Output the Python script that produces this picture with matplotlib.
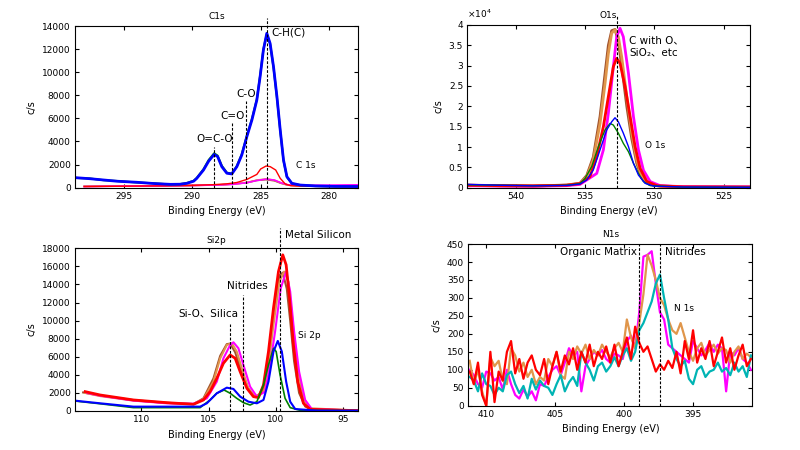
import matplotlib
matplotlib.use("Agg")
import matplotlib.pyplot as plt
from matplotlib.ticker import MultipleLocator, FuncFormatter

plt.rcParams['font.family'] = ['DejaVu Sans', 'Noto Sans CJK JP']
plt.rcParams['font.size'] = 6.5

RED = '#ff0000'
BLUE = '#0000ff'
GREEN = '#008000'
MAGENTA = '#ff00ff'
ORANGE = '#e0964b'
BROWN = '#a0522d'
CYAN = '#00b4b4'

# ---- C1s ----
c1s_blue_x = [298.57, 297.5, 296.5, 295.5, 294.06, 292.8, 291.6, 290.9, 290.4, 289.9, 289.67,
              289.18, 288.8, 288.4, 288.15, 287.84, 287.47, 287.11, 286.74, 286.38, 286.01,
              285.64, 285.28, 285.04, 284.8, 284.55, 284.31, 284.06, 283.81, 283.57, 283.33,
              283.08, 282.72, 282.11, 281.0, 279.5, 277.86]
c1s_blue_y = [870, 780, 670, 560, 470, 360, 290, 300, 380, 560, 810,
              1530, 2300, 2880, 2700, 1820, 1250, 1190, 1820, 2830, 4420,
              5860, 7590, 9610, 11920, 13370, 12500, 10480, 7880, 5000, 2400,
              950, 380, 230, 150, 110, 100]
c1s_green_y = [850, 800, 650, 580, 450, 380, 280, 310, 400, 600, 850,
               1600, 2400, 2980, 2780, 1900, 1300, 1220, 1880, 2900, 4500,
               5950, 7650, 9700, 12000, 13300, 12450, 10400, 7800, 4950, 2350,
               930, 370, 220, 140, 100, 90]
c1s_red_x = [297.9, 296.0, 294.0, 292.0, 290.0, 288.5, 287.5, 286.74, 286.0, 285.28, 285.0,
             284.6, 284.3, 283.9, 283.57, 283.2, 282.8, 282.0, 280.0, 277.86]
c1s_red_y = [100, 120, 140, 160, 200, 260, 330, 450, 720, 1150, 1620,
             1880, 1820, 1530, 810, 320, 170, 130, 110, 100]
c1s_small_x = [297.9, 295.0, 292.0, 290.0, 288.0, 287.0, 286.0, 285.3, 284.6, 284.0, 283.5,
               283.0, 282.0, 280.0, 277.86]
c1s_orange_y = [120, 150, 170, 200, 250, 320, 450, 650, 760, 650, 400, 230, 180, 170, 190]
c1s_magenta_y = [100, 140, 160, 190, 240, 300, 430, 620, 740, 660, 420, 250, 200, 220, 250]
c1s_brown_y = [110, 140, 165, 195, 245, 310, 440, 630, 700, 600, 380, 220, 170, 160, 170]
c1s_marks = [288.38, 287.06, 286.04, 284.55]
c1s_mark_tops = [3550, 5630, 7500, 14670]

# ---- O1s ----
o1s_orange_x = [543.57, 541.16, 538.75, 536.33, 535.37, 534.88, 534.41, 533.92, 533.56, 533.32,
                533.08, 532.84, 532.6, 532.36, 531.99, 531.63, 531.27, 530.91, 530.42, 529.58,
                527.9, 523.07]
o1s_orange_y = [600, 450, 400, 600, 1000, 2700, 6800, 15800, 25600, 33000,
                38000, 38800, 37100, 32200, 22400, 13400, 6800, 2700, 1070, 400, 200, 150]
o1s_brown_y = [650, 500, 420, 650, 1100, 3000, 7500, 17500, 28000, 35000,
               38600, 38900, 36000, 30000, 20000, 12000, 6000, 2400, 900, 350, 180, 120]
o1s_magenta_x = [543.57, 541.16, 538.75, 536.33, 535.37, 534.16, 533.68, 533.32, 532.96, 532.72,
                 532.48, 532.24, 531.87, 531.51, 531.15, 530.79, 530.3, 529.58, 527.9, 523.07]
o1s_magenta_y = [500, 400, 350, 500, 800, 3500, 9300, 18300, 29750, 37100,
                 39200, 37100, 28100, 17500, 9300, 4300, 1500, 500, 250, 200]
o1s_red_x = [543.57, 541.16, 538.75, 536.33, 535.37, 534.65, 534.16, 533.68, 533.32, 532.96,
             532.72, 532.48, 532.11, 531.75, 531.39, 531.03, 530.54, 529.82, 527.9, 523.07]
o1s_red_y = [600, 500, 450, 600, 1000, 2700, 7600, 15000, 22400, 29750,
             31800, 30600, 24800, 17500, 10100, 4750, 1500, 500, 200, 150]
o1s_blue_x = [543.57, 541.16, 538.75, 536.33, 535.37, 534.88, 534.41, 533.92, 533.44, 533.08,
              532.84, 532.6, 532.24, 531.87, 531.51, 531.15, 530.67, 530.06, 527.9, 523.07]
o1s_blue_y = [820, 600, 450, 550, 900, 1900, 4350, 9300, 14200, 16200,
              17200, 16200, 13400, 10100, 6000, 3100, 1070, 400, 150, 100]
o1s_green_x = [543.57, 541.16, 538.75, 536.33, 535.37, 535.0, 534.52, 534.04, 533.56, 533.2,
               532.96, 532.6, 532.24, 531.87, 531.51, 531.15, 530.79, 530.3, 527.9, 523.07]
o1s_green_y = [700, 600, 500, 600, 1000, 2300, 5200, 10100, 14200, 15800,
               15400, 13400, 10900, 8850, 6000, 3500, 1500, 500, 150, 100]
o1s_mark = 532.72

# ---- Si2p ----
si_red_x = [114.15, 113.04, 110.57, 108.1, 106.12, 105.38, 104.89, 104.39, 103.9, 103.4, 103.03,
            102.66, 102.16, 101.68, 101.3, 100.93, 100.56, 100.19, 99.82, 99.5, 99.25,
            99.0, 98.71, 98.39, 97.97, 97.47, 94.01]
si_red_y = [2140, 1770, 1220, 920, 740, 1220, 2140, 3620, 5280, 6200, 5830,
            4350, 2510, 1590, 1480, 2880, 6570, 11370, 15420, 17270, 16160,
            12470, 7300, 3250, 850, 185, 40]
si_orange_x = [114.15, 113.04, 110.57, 108.1, 106.12, 105.38, 104.64, 104.14, 103.65, 103.28,
               102.91, 102.54, 102.05, 101.55, 100.93, 100.56, 100.19, 99.75, 99.4, 99.08,
               98.75, 98.39, 97.97, 97.47, 94.01]
si_orange_y = [2000, 1650, 1150, 900, 780, 1300, 3250, 5830, 7300, 7490,
               6570, 4720, 2510, 1590, 2140, 5090, 9520, 14320, 15420, 14320,
               9520, 4720, 1400, 300, 40]
si_magenta_x = [114.0, 113.04, 110.57, 108.1, 106.12, 105.13, 104.39, 103.9, 103.4, 103.16,
                102.79, 102.42, 101.92, 101.42, 100.81, 100.44, 100.07, 99.65, 99.25, 98.95,
                98.66, 98.29, 97.84, 97.35, 94.01]
si_magenta_y = [2000, 1700, 1150, 850, 800, 1400, 3250, 5830, 7300, 7600,
                6940, 5090, 2690, 1590, 2140, 5090, 8780, 13580, 15420, 13210,
                8780, 4350, 1220, 220, 40]
si_brown_x = [114.3, 113.04, 110.57, 108.1, 106.12, 105.38, 104.64, 104.14, 103.65, 103.4,
              103.03, 102.66, 102.16, 101.68, 101.3, 100.93, 100.56, 100.19, 99.75, 99.5,
              99.2, 98.95, 98.66, 98.29, 97.84, 97.35, 94.01]
si_brown_y = [2050, 1700, 1200, 900, 760, 1400, 3600, 6100, 7400, 7450,
              6500, 4800, 2700, 1650, 1700, 2700, 6000, 11000, 15000, 15300,
              13500, 10000, 5500, 2000, 500, 150, 40]
si_blue_x = [114.89, 113.04, 110.57, 108.1, 105.63, 105.13, 104.39, 103.65, 103.16, 102.66,
             102.05, 101.42, 100.93, 100.56, 100.19, 99.87, 99.57, 99.25, 98.95, 98.58,
             96.98, 94.01]
si_blue_y = [1140, 850, 480, 480, 480, 850, 1960, 2580, 2440, 1590,
             1030, 850, 1220, 3250, 6570, 7750, 6570, 3250, 1030, 220, 40, 30]
si_green_x = [114.89, 113.04, 110.57, 108.1, 105.63, 104.89, 104.39, 103.85, 103.4, 102.91,
              102.42, 101.92, 101.42, 100.93, 100.56, 100.19, 99.99, 99.7, 99.33, 98.95,
              98.21, 94.01]
si_green_y = [1100, 800, 370, 370, 370, 1220, 1960, 2320, 1960, 1400,
              920, 660, 1030, 2880, 5090, 6940, 6570, 3990, 1400, 370, 70, 30]
si_marks = [103.4, 102.42, 99.7]
si_mark_tops = [9630, 12830, 20210]

# ---- N1s ----
n1s_be = [411.2, 410.9, 410.6, 410.3, 410.0, 409.7, 409.4, 409.1, 408.8, 408.5, 408.2, 407.9,
          407.6, 407.3, 407.0, 406.7, 406.4, 406.1, 405.8, 405.5, 405.2, 404.9, 404.6, 404.3,
          404.0, 403.7, 403.4, 403.1, 402.8, 402.5, 402.2, 401.9, 401.6, 401.3, 401.0, 400.7,
          400.4, 400.1, 399.8, 399.5, 399.2, 398.9, 398.6, 398.3, 398.0, 397.7, 397.4, 397.1,
          396.8, 396.5, 396.2, 395.9, 395.6, 395.3, 395.0, 394.7, 394.4, 394.1, 393.8, 393.5,
          393.2, 392.9, 392.6, 392.3, 392.0, 391.7, 391.4, 391.1, 390.8]
n1s_red = [95, 60, 120, 30, 0, 150, 10, 95, 70, 150, 180, 90,
           130, 75, 120, 140, 100, 85, 130, 60, 110, 150, 95, 140,
           115, 160, 100, 150, 120, 170, 110, 150, 130, 165, 120, 170,
           110, 150, 190, 130, 220, 175, 150, 165, 130, 95, 115, 100,
           125, 105, 150, 90, 180, 130, 210, 120, 160, 130, 180, 110,
           150, 190, 120, 160, 100, 140, 170, 110, 130]
n1s_orange = [125, 60, 100, 40, 0, 135, 110, 125, 70, 60, 160, 140,
              95, 120, 80, 100, 60, 80, 70, 130, 110, 150, 85, 75,
              150, 130, 165, 145, 170, 130, 155, 140, 170, 150, 135, 160,
              175, 150, 240, 190, 160, 230, 310, 420, 390, 350, 300, 280,
              240, 210, 200, 230, 190, 150, 125, 160, 175, 140, 155, 170,
              145, 160, 155, 120, 150, 165, 130, 145, 135]
n1s_cyan = [80, 70, 40, 90, 60, 55, 30, 50, 40, 85, 95, 60,
            35, 55, 20, 75, 45, 70, 55, 50, 30, 60, 85, 40,
            65, 80, 55, 150, 120, 100, 70, 110, 120, 95, 110, 135,
            110, 140, 160, 125, 150, 210, 230, 260, 290, 340, 365, 300,
            240, 160, 130, 110, 125, 75, 60, 100, 110, 80, 95, 100,
            120, 95, 105, 85, 120, 95, 110, 80, 140]
n1s_magenta = [100, 85, 60, 50, 95, 90, 70, 80, 45, 100, 60, 30,
               20, 45, 25, 40, 15, 60, 55, 80, 100, 110, 85, 120,
               160, 140, 150, 40, 110, 130, 150, 140, 155, 130, 120, 145,
               140, 130, 180, 195, 160, 260, 415, 420, 430, 340, 260, 240,
               170, 160, 150, 140, 130, 120, 180, 160, 140, 155, 175, 150,
               170, 160, 40, 150, 140, 160, 130, 120, 100]
n1s_marks = [398.9, 397.4]

fig = plt.figure(figsize=(8, 4.5), dpi=100)
ax1 = fig.add_axes([0.0938, 0.5829, 0.3541, 0.3593])
ax2 = fig.add_axes([0.5841, 0.5829, 0.3534, 0.3616])
ax3 = fig.add_axes([0.0938, 0.0867, 0.3541, 0.3616])
ax4 = fig.add_axes([0.5854, 0.0984, 0.3550, 0.3593])

dash = (0, (2.5, 1.5))
lbl = 7.5


def style(ax, title, pad):
    ax.set_title(title, fontsize=6.5, pad=pad)
    ax.set_xlabel('Binding Energy (eV)', fontsize=7, labelpad=4)
    ax.set_ylabel('c/s', fontsize=7)
    ax.xaxis.set_major_locator(MultipleLocator(5))
    ax.tick_params(direction='in', top=True, right=True, length=3, width=0.8,
                   labelsize=6.5, pad=3)
    for s in ax.spines.values():
        s.set_linewidth(0.8)


# C1s
ax1.plot(c1s_small_x, c1s_brown_y, color=BROWN, lw=1.2)
ax1.plot(c1s_small_x, c1s_orange_y, color=ORANGE, lw=1.2)
ax1.plot(c1s_small_x, c1s_magenta_y, color=MAGENTA, lw=1.2)
ax1.plot(c1s_red_x, c1s_red_y, color=RED, lw=1.0)
ax1.plot(c1s_blue_x, c1s_green_y, color=GREEN, lw=1.5)
ax1.plot(c1s_blue_x, c1s_blue_y, color=BLUE, lw=2.0)
for x, top in zip(c1s_marks, c1s_mark_tops):
    ax1.plot([x, x], [0, top], color='k', lw=0.8, ls=dash, clip_on=False)
ax1.text(288.38, 4200, 'O=C-O', ha='center', va='center', fontsize=lbl)
ax1.text(287.06, 6250, 'C=O', ha='center', va='center', fontsize=lbl)
ax1.text(286.04, 8100, 'C-O', ha='center', va='center', fontsize=lbl)
ax1.text(284.25, 13450, 'C-H(C)', ha='left', va='center', fontsize=lbl)
ax1.text(282.4, 1960, 'C 1s', ha='left', va='center', fontsize=6.5)
ax1.set_xlim(298.57, 277.86)
ax1.set_ylim(0, 14000)
ax1.yaxis.set_major_locator(MultipleLocator(2000))
style(ax1, 'C1s', 5)

# O1s
ax2.plot(o1s_orange_x, o1s_brown_y, color=BROWN, lw=2.0)
ax2.plot(o1s_orange_x, o1s_orange_y, color=ORANGE, lw=2.0)
ax2.plot(o1s_magenta_x, o1s_magenta_y, color=MAGENTA, lw=2.0)
ax2.plot(o1s_red_x, o1s_red_y, color=RED, lw=2.0)
ax2.plot(o1s_green_x, o1s_green_y, color=GREEN, lw=1.0)
ax2.plot(o1s_blue_x, o1s_blue_y, color=BLUE, lw=1.0)
ax2.plot([o1s_mark, o1s_mark], [0, 42500], color='k', lw=0.8, ls=dash, clip_on=False)
ax2.text(531.8, 34800, 'C with O、\nSiO₂、etc', ha='left', va='center', fontsize=lbl,
         linespacing=1.3)
ax2.text(530.67, 10300, 'O 1s', ha='left', va='center', fontsize=6.5)
ax2.set_xlim(543.5, 523.1)
ax2.set_ylim(0, 40000)
ax2.yaxis.set_major_locator(MultipleLocator(5000))
ax2.yaxis.set_major_formatter(FuncFormatter(lambda v, p: '%g' % (v / 1e4)))
ax2.text(0, 1.03, r'$\times 10^4$', transform=ax2.transAxes, ha='left', va='bottom',
         fontsize=6.5)
style(ax2, 'O1s', 5)

# Si2p
ax3.plot(si_brown_x, si_brown_y, color=BROWN, lw=1.5)
ax3.plot(si_orange_x, si_orange_y, color=ORANGE, lw=1.5)
ax3.plot(si_magenta_x, si_magenta_y, color=MAGENTA, lw=1.5)
ax3.plot(si_red_x, si_red_y, color=RED, lw=2.0)
ax3.plot(si_green_x, si_green_y, color=GREEN, lw=1.2)
ax3.plot(si_blue_x, si_blue_y, color=BLUE, lw=1.5)
for x, top in zip(si_marks, si_mark_tops):
    ax3.plot([x, x], [0, top], color='k', lw=0.8, ls=dash, clip_on=False)
ax3.text(104.98, 10810, 'Si-O、Silica', ha='center', va='center', fontsize=lbl)
ax3.text(102.09, 13830, 'Nitrides', ha='center', va='center', fontsize=lbl)
ax3.text(99.33, 19470, 'Metal Silicon', ha='left', va='center', fontsize=lbl)
ax3.text(98.34, 8300, 'Si 2p', ha='left', va='center', fontsize=6.5)
ax3.set_xlim(114.9, 93.9)
ax3.set_ylim(0, 18000)
ax3.yaxis.set_major_locator(MultipleLocator(2000))
style(ax3, 'Si2p', 4)

# N1s
ax4.plot(n1s_be, n1s_magenta, color=MAGENTA, lw=1.6)
ax4.plot(n1s_be, n1s_orange, color=ORANGE, lw=1.6)
ax4.plot(n1s_be, n1s_cyan, color=CYAN, lw=1.6)
ax4.plot(n1s_be, n1s_red, color=RED, lw=1.6)
for x in n1s_marks:
    ax4.plot([x, x], [0, 450], color='k', lw=0.8, ls=dash)
ax4.text(399.1, 428, 'Organic Matrix', ha='right', va='center', fontsize=lbl)
ax4.text(397.0, 428, 'Nitrides', ha='left', va='center', fontsize=lbl)
ax4.text(396.4, 271, 'N 1s', ha='left', va='center', fontsize=6.5)
ax4.set_xlim(411.3, 390.7)
ax4.set_ylim(0, 450)
ax4.yaxis.set_major_locator(MultipleLocator(50))
style(ax4, 'N1s', 5)

fig.savefig('out.png', dpi=100)
